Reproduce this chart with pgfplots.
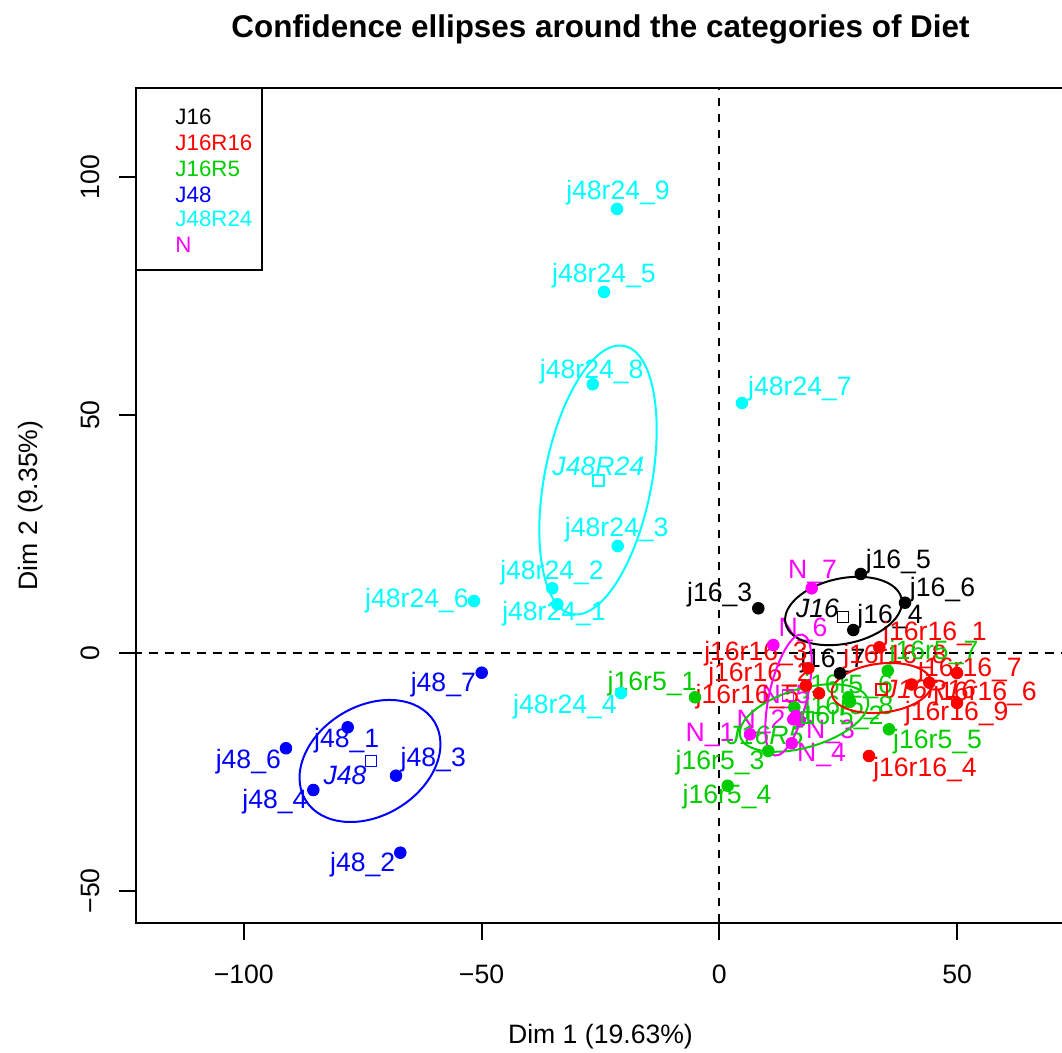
\documentclass[border=0pt]{standalone}
\usepackage{fontspec}
\setmainfont{Liberation Sans}
\usepackage{pgfplots}
\pgfplotsset{compat=1.18}
\definecolor{rgreen}{RGB}{0,205,0}
\definecolor{rcyan}{RGB}{0,255,255}
\definecolor{rmag}{RGB}{255,0,255}
\definecolor{rblue}{RGB}{0,0,255}
\definecolor{rred}{RGB}{255,0,0}
\newcommand{\labfont}{\fontsize{10.64}{12.8}\selectfont}
\newcommand{\legfont}{\fontsize{8.92}{10.7}\selectfont}
\begin{document}
\begin{tikzpicture}
\tikzset{lab/.style={font=\labfont, inner sep=0pt, anchor=center}}
\begin{axis}[
 scale only axis, width=371.6pt, height=334pt,
 xmin=-122.67, xmax=72.70, ymin=-56.76, ymax=118.77,
 axis line style={line width=0.8pt},
 tick align=outside, major tick length=6.8pt, tick style={line width=0.8pt, black},
 tick pos=left,
 xtick={-100,-50,0,50}, xticklabels={−100,−50,0,50},
 ytick={-50,0,50,100}, yticklabels={−50,0,50,100},
 xticklabel style={font=\labfont, anchor=center, yshift=-13.6pt},
 yticklabel style={font=\labfont, anchor=center, xshift=-11.3pt, rotate=90},
 xlabel={Dim 1 (19.63\%)}, ylabel={Dim 2 (9.35\%)},
 every axis x label/.style={at={(axis description cs:0.5,0)}, anchor=center, yshift=-45.6pt, font=\labfont},
 every axis y label/.style={at={(axis description cs:0,0.5)}, anchor=center, xshift=-42pt, rotate=90, font=\labfont},
 title={Confidence ellipses around the categories of Diet},
 every axis title/.style={at={(axis description cs:0.5,1)}, anchor=center, yshift=23.6pt, font=\fontsize{12.56}{15}\selectfont\bfseries},
]
% reference lines
\addplot[black, line width=0.8pt, dash pattern=on 3.4pt off 3pt] coordinates {(-130,0) (80,0)};
\addplot[black, line width=0.8pt, dash pattern=on 3.4pt off 3pt] coordinates {(0,-60) (0,125)};
% individuals
\addplot[only marks, mark=*, mark size=2.3pt, color=black] coordinates {(8.20,9.40) (29.74,16.61) (39.05,10.57) (28.18,4.83) (25.38,-4.27)};
\addplot[only marks, mark=*, mark size=2.3pt, color=rred] coordinates {(33.65,1.20) (18.72,-3.22) (18.23,-6.87) (20.97,-8.47) (40.46,-6.62) (44.16,-6.24) (49.99,-4.20) (49.99,-10.51) (31.48,-21.65)};
\addplot[only marks, mark=*, mark size=2.3pt, color=rgreen] coordinates {(-5.11,-9.31) (15.77,-11.41) (10.30,-20.60) (1.77,-27.90) (35.69,-16.04) (35.42,-3.72) (27.13,-9.31) (27.49,-10.24)};
\addplot[only marks, mark=*, mark size=2.3pt, color=rblue] coordinates {(-78.15,-15.62) (-67.09,-41.98) (-67.99,-25.79) (-85.38,-28.80) (-91.13,-20.03) (-49.97,-4.14)};
\addplot[only marks, mark=*, mark size=2.3pt, color=rcyan] coordinates {(-21.51,93.34) (-24.25,75.89) (-26.62,56.49) (4.77,52.55) (-21.37,22.49) (-35.12,13.60) (-34.07,10.24) (-51.59,10.93) (-20.67,-8.41)};
\addplot[only marks, mark=*, mark size=2.3pt, color=rmag] coordinates {(19.43,13.60) (11.36,1.68) (6.46,-17.09) (15.56,-13.94) (16.97,-14.29) (15.23,-18.98) (16.13,-13.24)};
% category means
\addplot[only marks, mark=square, mark size=2.2pt, color=black, mark options={line width=0.6pt}] coordinates {(26.01,7.57)};
\addplot[only marks, mark=square, mark size=2.2pt, color=rred, mark options={line width=0.6pt}] coordinates {(34.15,-7.63)};
\addplot[only marks, mark=square, mark size=2.2pt, color=rgreen, mark options={line width=0.6pt}] coordinates {(18.56,-13.57)};
\addplot[only marks, mark=square, mark size=2.2pt, color=rblue, mark options={line width=0.6pt}] coordinates {(-73.3,-22.7)};
\addplot[only marks, mark=square, mark size=2.2pt, color=rcyan, mark options={line width=0.6pt}] coordinates {(-25.45,36.22)};
\addplot[only marks, mark=square, mark size=2.2pt, color=rmag, mark options={line width=0.6pt}] coordinates {(14.45,-8.89)};
% labels J48
\node[lab, text=rblue] at (axis cs:-78.36,-18.44) {j48\_1};
\node[lab, text=rblue] at (axis cs:-75.0,-44.57) {j48\_2};
\node[lab, text=rblue] at (axis cs:-60.15,-22.49) {j48\_3};
\node[lab, text=rblue] at (axis cs:-93.44,-31.26) {j48\_4};
\node[lab, text=rblue] at (axis cs:-99.05,-22.85) {j48\_6};
\node[lab, text=rblue] at (axis cs:-58.04,-6.73) {j48\_7};
\node[lab, text=rblue] at (axis cs:-78.72,-25.65) {\itshape J48};
% labels J48R24
\node[lab, text=rcyan] at (axis cs:-21.30,96.70) {j48r24\_9};
\node[lab, text=rcyan] at (axis cs:-24.25,79.25) {j48r24\_5};
\node[lab, text=rcyan] at (axis cs:-26.83,59.13) {j48r24\_8};
\node[lab, text=rcyan] at (axis cs:16.97,55.50) {j48r24\_7};
\node[lab, text=rcyan] at (axis cs:-21.58,25.86) {j48r24\_3};
\node[lab, text=rcyan] at (axis cs:-35.18,16.82) {j48r24\_2};
\node[lab, text=rcyan] at (axis cs:-34.76,8.20) {j48r24\_1};
\node[lab, text=rcyan] at (axis cs:-63.58,10.93) {j48r24\_6};
\node[lab, text=rcyan] at (axis cs:-32.45,-11.35) {j48r24\_4};
\node[lab, text=rcyan] at (axis cs:-25.45,39.16) {\itshape J48R24};
% labels J16
\node[lab, text=black] at (axis cs:0.08,12.19) {j16\_3};
\node[lab, text=black] at (axis cs:37.64,19.19) {j16\_5};
\node[lab, text=black] at (axis cs:46.94,13.39) {j16\_6};
\node[lab, text=black] at (axis cs:35.90,7.63) {j16\_4};
\node[lab, text=black] at (axis cs:23.87,-1.68) {j16\_7};
\node[lab, text=black] at (axis cs:20.65,9.40) {\itshape J16};
% labels N
\node[lab, text=rmag] at (axis cs:19.6,17.09) {N\_7};
\node[lab, text=rmag] at (axis cs:17.60,4.83) {N\_6};
\node[lab, text=rmag] at (axis cs:-1.96,-17.24) {N\_1};
\node[lab, text=rmag] at (axis cs:8.77,-14.44) {N\_2};
\node[lab, text=rmag] at (axis cs:14.03,-9.19) {N\_5};
\node[lab, text=rmag] at (axis cs:23.39,-16.54) {N\_3};
\node[lab, text=rmag] at (axis cs:21.49,-21.44) {N\_4};
% labels J16R16
\node[lab, text=rred] at (axis cs:45.36,4.14) {j16r16\_1};
\node[lab, text=rred] at (axis cs:7.72,-0.06) {j16r16\_3};
\node[lab, text=rred] at (axis cs:8.56,-4.62) {j16r16\_2};
\node[lab, text=rred] at (axis cs:5.93,-9.19) {j16r16\_5};
\node[lab, text=rred] at (axis cs:36.95,-0.84) {j16r16\_8};
\node[lab, text=rred] at (axis cs:52.72,-3.57) {j16r16\_7};
\node[lab, text=rred] at (axis cs:55.88,-8.62) {j16r16\_6};
\node[lab, text=rred] at (axis cs:49.93,-12.68) {j16r16\_9};
\node[lab, text=rred] at (axis cs:43.26,-24.60) {j16r16\_4};
\node[lab, text=rred] at (axis cs:44.31,-7.57) {\itshape J16R16};
% labels J16R5
\node[lab, text=rgreen] at (axis cs:-14.15,-6.52) {j16r5\_1};
\node[lab, text=rgreen] at (axis cs:0.15,-23.12) {j16r5\_3};
\node[lab, text=rgreen] at (axis cs:1.62,-30.21) {j16r5\_4};
\node[lab, text=rgreen] at (axis cs:45.89,-18.64) {j16r5\_5};
\node[lab, text=rgreen] at (axis cs:45.15,0.0) {j16r5\_7};
\node[lab, text=rgreen] at (axis cs:27.17,-7.15) {j16r5\_6};
\node[lab, text=rgreen] at (axis cs:27.28,-11.56) {j16r5\_8};
\node[lab, text=rgreen] at (axis cs:25.17,-13.66) {j16r5\_2};
\node[lab, text=rgreen] at (axis cs:9.61,-17.24) {\itshape J16R5};
% confidence ellipses
\draw[rblue, line width=0.8pt, rotate around={31.2:(axis cs:-73.46,-22.70)}] (axis cs:-73.46,-22.70) ellipse [x radius=30.16pt, y radius=21.92pt];
\draw[rcyan, line width=0.8pt, rotate around={79.05:(axis cs:-25.51,36.37)}] (axis cs:-25.51,36.37) ellipse [x radius=54.64pt, y radius=21.44pt];
\draw[black, line width=0.8pt, rotate around={12:(axis cs:26.12,8.83)}] (axis cs:26.12,8.83) ellipse [x radius=23.72pt, y radius=13.04pt];
\draw[rred, line width=0.8pt, rotate around={6.6:(axis cs:34.15,-7.36)}] (axis cs:34.15,-7.36) ellipse [x radius=20.12pt, y radius=9.8pt];
\draw[rgreen, line width=0.8pt, rotate around={16.4:(axis cs:17.81,-13.66)}] (axis cs:17.81,-13.66) ellipse [x radius=26.56pt, y radius=11.72pt];
\draw[rmag, line width=0.8pt, rotate around={77:(axis cs:14.55,-8.83)}] (axis cs:14.55,-8.83) ellipse [x radius=24.8pt, y radius=7.6pt];
% legend
\draw[black, line width=0.8pt] (axis cs:-122.67,118.77) rectangle (axis cs:-96.17,80.51);
\node[font=\legfont, anchor=base west, inner sep=0pt, text=black] at (axis cs:-114.47,111.2) {J16};
\node[font=\legfont, anchor=base west, inner sep=0pt, text=rred] at (axis cs:-114.47,105.6) {J16R16};
\node[font=\legfont, anchor=base west, inner sep=0pt, text=rgreen] at (axis cs:-114.47,100.2) {J16R5};
\node[font=\legfont, anchor=base west, inner sep=0pt, text=rblue] at (axis cs:-114.47,94.7) {J48};
\node[font=\legfont, anchor=base west, inner sep=0pt, text=rcyan] at (axis cs:-114.47,89.55) {J48R24};
\node[font=\legfont, anchor=base west, inner sep=0pt, text=rmag] at (axis cs:-114.47,84.1) {N};
\end{axis}
\pgfresetboundingbox
\useasboundingbox (-54.4pt,-51.6pt) rectangle (370.4pt,369.2pt);
\end{tikzpicture}
\end{document}
